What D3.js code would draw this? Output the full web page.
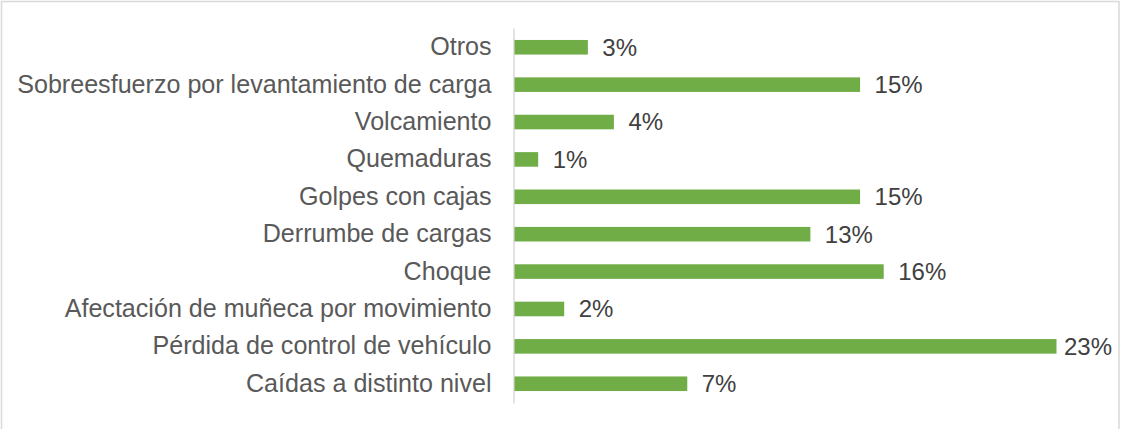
<!DOCTYPE html>
<html>
<head>
<meta charset="utf-8">
<script src="https://cdn.jsdelivr.net/npm/d3@7"></script>
<style>
  body { margin: 0; background: #fff; }
  text { font-family: "Liberation Sans", Arial, sans-serif; }
</style>
</head>
<body>
<div id="chart"></div>
<script>
// Categories, top to bottom, and their shares (%)
const categories = [
  "Otros",
  "Sobreesfuerzo por levantamiento de carga",
  "Volcamiento",
  "Quemaduras",
  "Golpes con cajas",
  "Derrumbe de cargas",
  "Choque",
  "Afectación de muñeca por movimiento",
  "Pérdida de control de vehículo",
  "Caídas a distinto nivel"
];
const shares = [3.1, 14.6, 4.2, 1.0, 14.6, 12.5, 15.6, 2.1, 22.9, 7.3];

const data = categories.map((c, i) => ({ name: c, value: shares[i] }));

// Chart dimensions
const width = 1121;
const height = 429;
const marginTop = 28;
const marginBottom = 26;
const marginLeft = 514;
const marginRight = 65;

const x = d3.scaleLinear()
  .domain([0, d3.max(shares)])
  .range([marginLeft, width - marginRight]);

const y = d3.scaleBand()
  .domain(categories)
  .range([marginTop, height - marginBottom])
  .paddingInner(0.61)
  .paddingOuter(0.32);

const svg = d3.select("#chart").append("svg")
  .attr("width", width)
  .attr("height", height)
  .attr("viewBox", [0, 0, width, height]);

// Chart area border
svg.append("rect")
  .attr("x", 1.5)
  .attr("y", 1.5)
  .attr("width", width - 3.5)
  .attr("height", height + 20)
  .attr("fill", "none")
  .attr("stroke", "#d9d9d9")
  .attr("stroke-width", 1.5);

// Category axis
svg.append("g")
  .attr("transform", `translate(${marginLeft - 0.5},0)`)
  .call(d3.axisLeft(y).tickSize(0).tickSizeOuter(0).tickPadding(22))
  .call(g => g.select(".domain").attr("stroke", "#d9d9d9").attr("stroke-width", 1.5))
  .call(g => g.selectAll(".tick text")
    .attr("fill", "#595959")
    .style("font-size", "25.1px")
    .style("font-family", "'Liberation Sans', Arial, sans-serif"));

// Bars
svg.append("g")
  .attr("fill", "#70ad47")
  .selectAll("rect")
  .data(data)
  .join("rect")
  .attr("x", x(0) + 0.5)
  .attr("y", d => y(d.name))
  .attr("width", d => x(d.value) - x(0))
  .attr("height", y.bandwidth());

// Value labels, pulled back inside the frame when they would overflow
svg.append("g")
  .selectAll("text")
  .data(data)
  .join("text")
  .attr("y", d => y(d.name) + y.bandwidth() / 2)
  .attr("dy", "0.35em")
  .attr("fill", "#404040")
  .style("font-size", "24px")
  .text(d => Math.round(d.value) + "%")
  .attr("x", function(d) {
    const w = this.getComputedTextLength();
    return Math.min(x(d.value) + 15, width - 9 - w);
  });
</script>
</body>
</html>
